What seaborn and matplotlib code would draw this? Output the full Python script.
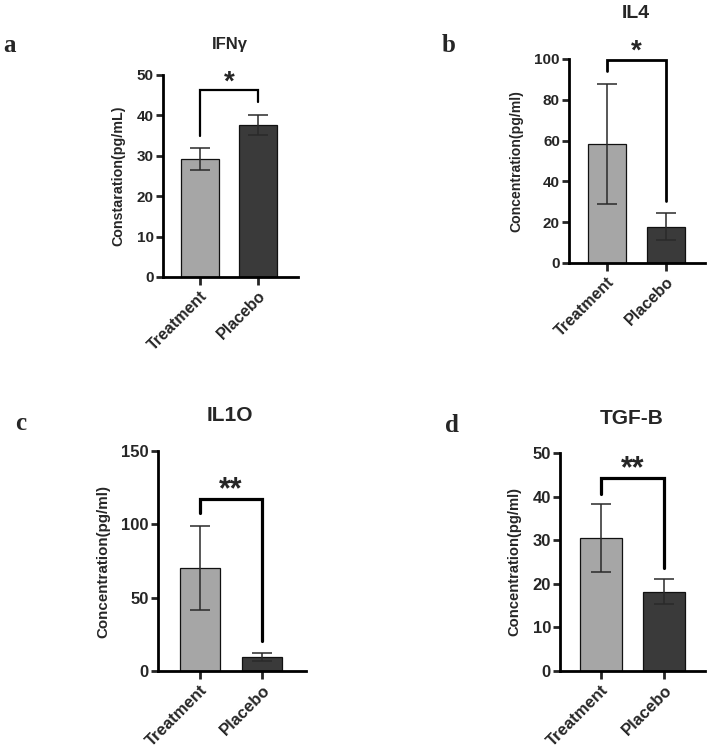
import matplotlib
matplotlib.use("Agg")
import matplotlib.pyplot as plt
import seaborn as sns
import pandas as pd

sns.set_style("ticks")
plt.rcParams['font.family'] = ['Liberation Sans', 'DejaVu Sans']
plt.rcParams['font.weight'] = 'bold'

groups = ["Treatment", "Placebo"]
ifng_mean = [29.3, 37.6]
ifng_err = [2.7, 2.4]
il4_mean = [58.4, 17.8]
il4_err = [29.3, 6.7]
il10_mean = [70.0, 9.8]
il10_err = [28.7, 2.8]
tgfb_mean = [30.4, 18.2]
tgfb_err = [7.8, 2.85]

titles = ["IFNγ", "IL4", "IL1O", "TGF-B"]
ylabels = ["Constaration(pg/mL)", "Concentration(pg/ml)",
           "Concentration(pg/ml)", "Concentration(pg/ml)"]
panel_letters = ["a", "b", "c", "d"]
stars = ["*", "*", "**", "**"]
bracket_top = [46.2, 99.7, 117.3, 44.3]
bracket_legs = [[35, 43.3], [94, 30.2], [107.5, 20.7], [40.7, 23.7]]
yticks = [[0, 10, 20, 30, 40, 50], [0, 20, 40, 60, 80, 100],
          [0, 50, 100, 150], [0, 10, 20, 30, 40, 50]]

means = [ifng_mean, il4_mean, il10_mean, tgfb_mean]
errs = [ifng_err, il4_err, il10_err, tgfb_err]

W, H = 709, 752
fig = plt.figure(figsize=(W / 100, H / 100), dpi=100)

# layout in pixels: left, right, top(ymax), bottom(y0)
boxes = [(163, 298, 75, 277), (569, 705, 59, 263), (158, 306, 451, 671), (560, 705, 453, 671)]
centers = [(200, 258), (607, 666), (200, 262), (601, 664)]
title_pos = [(230, 45), (636, 13), (230, 415), (632, 419)]
title_size = [12, 14, 15, 15]
letter_pos = [(9, 46), (449, 46), (21, 423), (452, 425)]
ytick_size = [11, 11, 12, 12]
xtick_size = [11.5, 11.5, 12, 12]
ylab_size = [10.3, 10.1, 10.9, 10.6]
star_size = [20, 20, 22, 22]
bracket_lw = [1.6, 2.0, 2.3, 2.3]

colors = ["#a6a6a6", "#3a3a3a"]

for i in range(4):
    l, r, t, b = boxes[i]
    ax = fig.add_axes([l / W, 1 - b / H, (r - l) / W, (b - t) / H])
    df = pd.DataFrame({"group": groups, "value": means[i]})
    c0, c1 = centers[i]
    unit = c1 - c0
    sns.barplot(data=df, x="group", y="value", hue="group", palette=colors,
                width=0.66, edgecolor="#111111", linewidth=0.9, legend=False, ax=ax)
    ax.errorbar([0, 1], means[i], yerr=errs[i], fmt="none", ecolor="#2a2a2a",
                elinewidth=1.1, capsize=7.5, capthick=1.1, zorder=5)
    ax.set_xlim((l - c0) / unit, (r - c0) / unit)
    ax.set_ylim(0, yticks[i][-1])
    ax.set_yticks(yticks[i])
    ax.set_xticks([0, 1])
    ax.set_xticklabels(groups, rotation=45, ha="right", rotation_mode="anchor",
                       fontsize=xtick_size[i], fontweight="bold")
    ax.tick_params(axis="y", labelsize=ytick_size[i], width=2.0, length=5, pad=1.5)
    ax.tick_params(axis="x", width=2.0, length=6, pad=2)
    for lab in ax.get_yticklabels():
        lab.set_fontweight("bold")
    ax.set_xlabel("")
    ax.set_ylabel(ylabels[i], fontsize=ylab_size[i], fontweight="bold", labelpad=8)
    for s in ["left", "bottom"]:
        ax.spines[s].set_linewidth(2.0)
        ax.spines[s].set_color("black")
    sns.despine(ax=ax)
    # significance bracket
    top = bracket_top[i]
    lg = bracket_legs[i]
    ax.plot([0, 0, 1, 1], [lg[0], top, top, lg[1]], color="black", lw=bracket_lw[i],
            clip_on=False, solid_joinstyle="miter", zorder=6)
    ax.annotate(stars[i], xy=(0.5, top), xytext=(0, 0.5), textcoords="offset points",
                ha="center", va="baseline", fontsize=star_size[i], fontweight="bold",
                annotation_clip=False)
    tx, ty = title_pos[i]
    fig.text(tx / W, 1 - ty / H, titles[i], ha="center", va="center",
             fontsize=title_size[i], fontweight="bold")
    lx, ly = letter_pos[i]
    fig.text(lx / W, 1 - ly / H, panel_letters[i], ha="center", va="center",
             fontsize=18, fontweight="bold", family="Liberation Serif")

fig.savefig("out.png", dpi=100)
